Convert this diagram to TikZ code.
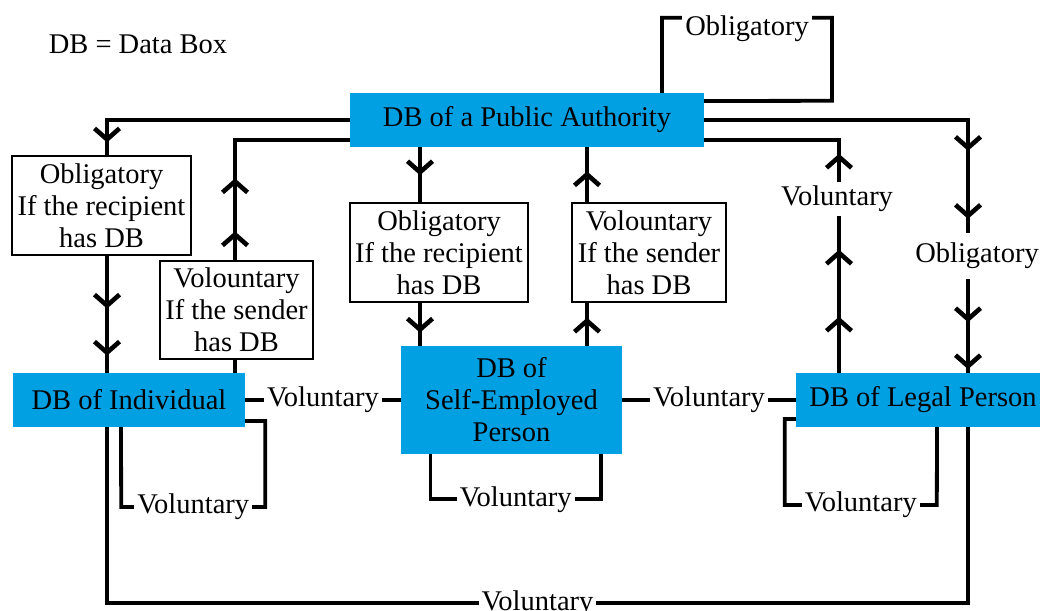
\documentclass[tikz,border=0pt]{standalone}
\usepackage{fontspec}
\setmainfont{Liberation Serif}
\usetikzlibrary{arrows.meta, decorations.markings, positioning}
\definecolor{dbblue}{RGB}{0,160,227}

\begin{document}
\begin{tikzpicture}[x=1pt, y=-1pt, font=\fontsize{28.5}{32}\selectfont,
        db/.style={fill=dbblue, align=center, inner sep=0pt, minimum height=54pt},
        tb/.style={draw, line width=1.2pt, fill=white, align=center, inner sep=0pt, minimum height=99pt},
        lb/.style={fill=white, inner xsep=3pt, inner ysep=2pt},
        e/.style={line width=3.8pt},
        arr/.style={postaction={decorate, decoration={markings,
            mark=at position #1 with {\draw[line width=4.6pt, miter limit=4] (-11pt,12.5pt) -- (0pt,0pt) -- (-11pt,-12.5pt);}}}}]
        \useasboundingbox (0,0) rectangle (1040,610);

        \node (key) at (138,44) {DB = Data Box};

        \node[db, minimum width=354pt] (pa) at (527,120) {DB of a Public Authority};
        \node[db, minimum width=232pt] (ind) at (129,400) {DB of Individual};
        \node[db, minimum width=221pt, minimum height=108pt] (se) at (511.5,400) {DB of\\Self-Employed\\Person};
        \node[db, minimum width=254pt] (lp) at (923,400) {DB of Legal Person};

        \node[tb, minimum width=179pt] (ob1) at (101.5,205.5) {Obligatory\\If the recipient\\has DB};
        \node[tb, minimum width=153pt, minimum height=98pt] (vo1) at (236.5,310) {Volountary\\If the sender\\has DB};
        \node[tb, minimum width=178pt] (ob2) at (439,252.5) {Obligatory\\If the recipient\\has DB};
        \node[tb, minimum width=154pt] (vo2) at (649,252.5) {Volountary\\If the sender\\has DB};
        \node[lb, inner ysep=10pt] (ob3) at (977,256) {Obligatory};
        \node[lb, inner ysep=4pt] (vo3) at (837,199) {Voluntary};

        % public authority <-> individual
        \draw[e, arr=-16pt] (pa.west) -| ([xshift=5.5pt]ob1.north);
        \draw[e, arr=50pt, arr=97pt] ([xshift=5.5pt]ob1.south) -- ([xshift=-22pt]ind.north);
        \draw[e] ([xshift=106pt]ind.north) -- ([xshift=-1.5pt]vo1.south);
        \draw[e, arr=26pt, arr=79pt] ([xshift=-1.5pt]vo1.north) |- ([yshift=-20pt]pa.west);

        % public authority <-> self-employed
        \draw[e, arr=25pt] ([xshift=-107pt]pa.south) -- ([xshift=-19pt]ob2.north);
        \draw[e, arr=27pt] ([xshift=-19pt]ob2.south) -- ([xshift=-91.5pt]se.north);
        \draw[e, arr=25pt] ([xshift=75.5pt]se.north) -- ([xshift=-62pt]vo2.south);
        \draw[e, arr=28pt] ([xshift=-62pt]vo2.north) -- ([xshift=60pt]pa.south);

        % public authority <-> legal person
        \draw[e, arr=-85pt, arr=-17pt] (pa.east) -| ([xshift=-9pt]ob3.north);
        \draw[e, arr=40pt, arr=87pt] ([xshift=-9pt]ob3.south) -- ([xshift=45pt]lp.north);
        \draw[e, arr=53pt, arr=120pt] ([xshift=-84pt]lp.north) -- ([xshift=2pt]vo3.south);
        \draw[e, arr=25pt] ([xshift=2pt]vo3.north) |- ([yshift=-20pt]pa.east);

        % public authority to itself
        \draw[e] ([xshift=135pt]pa.north) -- ++(0,-75) -- node[lb, yshift=-11pt] {Obligatory} ++(170,0) -- ++(0,83) -- ([yshift=19pt]pa.east);

        % between the boxes
        \draw[e] (ind.east) -- node[lb] {Voluntary} (se.west);
        \draw[e] (se.east) -- node[lb] {Voluntary} (lp.west);
        \draw[e] ([xshift=-22pt]ind.south) -- ++(0,176) -- node[lb] {Voluntary} ++(861,0) -- ([xshift=45pt]lp.south);

        % loops
        \draw[e] ([yshift=-21pt]ind.east) -- ++(20,0) -- ++(0,86) -- node[lb] {Voluntary} ++(-144,0) -- ([xshift=-8pt]ind.south);
        \draw[e] ([xshift=-81pt]se.south) -- ++(0,45) -- node[lb] {Voluntary} ++(170.5,0) -- ([xshift=89.5pt]se.south);
        \draw[e] ([yshift=-19pt]lp.west) -- ++(-11,0) -- ++(0,86) -- node[lb] {Voluntary} ++(152,0) -- ([xshift=14pt]lp.south);
\end{tikzpicture}
\end{document}
